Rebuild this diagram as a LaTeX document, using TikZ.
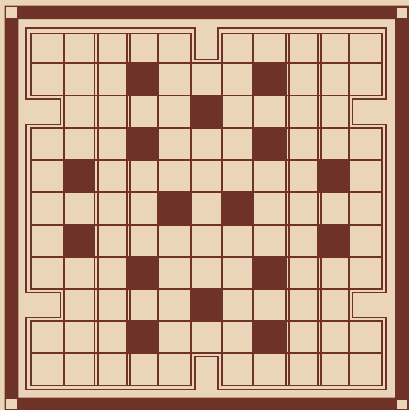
\documentclass[tikz,border=0pt]{standalone}
\definecolor{brd}{RGB}{110,50,40}
\definecolor{paper}{RGB}{234,213,184}
\begin{document}
\begin{tikzpicture}[x=1pt,y=-1pt,
  thinline/.style={draw=brd,line width=1.9pt},
  edgeline/.style={draw=brd,line width=1.9pt,line join=miter},
  darkcell/.style={fill=brd}]
\fill[paper] (0,0) rectangle (409,410);
\useasboundingbox (0,0) rectangle (409,410);
% outer thick frame
\fill[brd,even odd rule] (4.5,5.5) rectangle (411,412) (18.3,19) rectangle (395,397.5);
\fill[paper] (6,7) rectangle (17,17.5);
\fill[paper] (396.5,8) rectangle (407,18);
\fill[paper] (6,399) rectangle (17,409);
\fill[paper] (397,400) rectangle (407,409);
% grid coordinates
\foreach \xv [count=\i from 0] in {31,64,94.5,127,158.3,191.3,221.7,253.3,286,318.2,349,381.7}{
  \foreach \yv [count=\j from 0] in {33.5,63,95.5,128,160,192,225,257,289,321,353,385.5}{
    \coordinate (g-\i-\j) at (\xv,\yv);
  }
}
\def\board{(g-0-0) -- (g-5-0) -- (g-5-1) -- (g-6-1) -- (g-6-0) -- (g-11-0) -- (g-11-2) -- (g-10-2) -- (g-10-3) -- (g-11-3) -- (g-11-8) -- (g-10-8) -- (g-10-9) -- (g-11-9) -- (g-11-11) -- (g-6-11) -- (g-6-10) -- (g-5-10) -- (g-5-11) -- (g-0-11) -- (g-0-9) -- (g-1-9) -- (g-1-8) -- (g-0-8) -- (g-0-3) -- (g-1-3) -- (g-1-2) -- (g-0-2) -- cycle}
% dark cells
\foreach \c/\r in {3/1,7/1,5/2,3/3,7/3,1/4,9/4,4/5,6/5,1/6,9/6,3/7,7/7,5/8,3/9,7/9}{
  \pgfmathtruncatemacro{\cc}{\c+1}
  \pgfmathtruncatemacro{\rr}{\r+1}
  \fill[darkcell] (g-\c-\r) rectangle (g-\cc-\rr);
}
% grid lines
\begin{scope}
  \clip \board;
  \foreach \i in {1,...,10}{\draw[thinline] (g-\i-0) -- (g-\i-11);}
  \foreach \j in {1,...,10}{\draw[thinline] (g-0-\j) -- (g-11-\j);}
  \foreach \xv in {97.6,130.1,289.0,321.2}{\draw[thinline] (\xv,33.5) -- (\xv,385.5);}
\end{scope}
% board edge (inner line of double border)
\draw[edgeline] \board;
% outer line of double border
\draw[edgeline] (26,28) -- (194.8,28) -- (194.8,59.5) -- (218.2,59.5) -- (218.2,28) -- (386,28) -- (386,99) -- (352.5,99) -- (352.5,124.5) -- (386,124.5) -- (386,292.5) -- (352.5,292.5) -- (352.5,317.5) -- (386,317.5) -- (386,389.5) -- (218.2,389.5) -- (218.2,356.5) -- (194.8,356.5) -- (194.8,389.5) -- (26,389.5) -- (26,317.5) -- (60.5,317.5) -- (60.5,292.5) -- (26,292.5) -- (26,124.5) -- (60.5,124.5) -- (60.5,99) -- (26,99) -- cycle;
\end{tikzpicture}
\end{document}
